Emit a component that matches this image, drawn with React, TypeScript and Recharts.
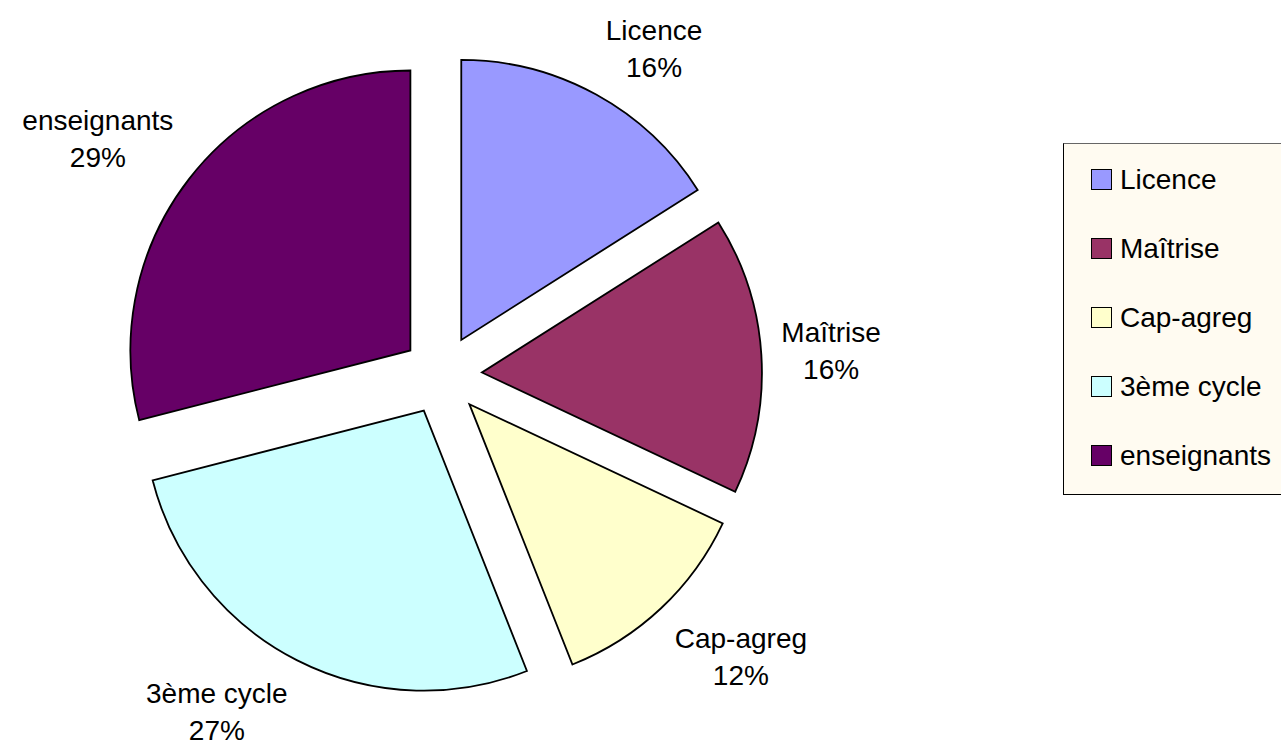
import React from 'react';
import { PieChart, Pie, Cell, Sector, Legend } from 'recharts';

const categories = ['Licence', 'Maîtrise', 'Cap-agreg', '3ème cycle', 'enseignants'];
const values = [16, 16, 12, 27, 29];
const COLORS = ['#9999FF', '#993366', '#FFFFCC', '#CCFFFF', '#660066'];

const data = categories.map((name, i) => ({ name, value: values[i] }));

const FONT = 'Arial, "Liberation Sans", sans-serif';
const FONT_SIZE = 28;
const EXPLODE = 40;
const RAD = Math.PI / 180;

// rough text width for label box placement
const measure = (txt: string) => {
  const ctx = document.createElement('canvas').getContext('2d');
  if (!ctx) return txt.length * 14;
  ctx.font = `${FONT_SIZE}px ${FONT}`;
  return ctx.measureText(txt).width;
};

const clamp = (v: number) => Math.max(-1, Math.min(1, v));

// exploded slice: shift each sector outward along its mid angle
const ExplodedSlice = (props: any) => {
  const { cx, cy, midAngle } = props;
  const dx = Math.cos(-midAngle * RAD) * EXPLODE;
  const dy = Math.sin(-midAngle * RAD) * EXPLODE;
  return <Sector {...props} cx={cx + dx} cy={cy + dy} stroke="#000" strokeWidth={1.8} />;
};

const renderLabel = (props: any) => {
  const { cx, cy, midAngle, outerRadius, name, percent } = props;
  const ux = Math.cos(-midAngle * RAD);
  const uy = Math.sin(-midAngle * RAD);
  const r = outerRadius + EXPLODE + 20;
  const px = cx + ux * r;
  const py = cy + uy * r;
  const pct = `${Math.round(percent * 100)}%`;
  const w = Math.max(measure(name), measure(pct));
  const h = 62;
  const x = px + clamp(ux * 3) * w / 2;
  const y = py + clamp(uy * 3) * h / 2 + 3;
  return (
    <text x={x} textAnchor="middle" fontFamily={FONT} fontSize={FONT_SIZE} fill="#000">
      <tspan x={x} y={y - 9}>{name}</tspan>
      <tspan x={x} y={y + 28}>{pct}</tspan>
    </text>
  );
};

const renderLegend = () => (
  <div style={{
    width: 240,
    height: 352,
    boxSizing: 'border-box',
    border: '1px solid #000',
    borderTopColor: '#666',
    background: '#FFFBF1',
    paddingTop: 1,
    fontFamily: FONT,
    fontSize: FONT_SIZE,
  }}>
    {data.map((entry, i) => (
      <div key={`leg-${i}`} style={{ height: 69, display: 'flex', alignItems: 'center', paddingLeft: 27 }}>
        <span style={{
          display: 'inline-block',
          width: 19,
          height: 19,
          background: COLORS[i],
          border: '1.5px solid #000',
          marginRight: 8,
        }} />
        <span>{entry.name}</span>
      </div>
    ))}
  </div>
);

export default function App() {
  return (
    <div style={{ position: 'fixed', left: 0, top: 0, width: 1281, height: 748, overflow: 'hidden', background: '#fff' }}>
      <PieChart width={1281} height={748} margin={{ top: 0, right: 0, bottom: 0, left: 0 }}>
        <Pie
          data={data}
          dataKey="value"
          nameKey="name"
          cx={442}
          cy={375}
          outerRadius={280}
          startAngle={90}
          endAngle={-270}
          shape={ExplodedSlice}
          label={renderLabel}
          labelLine={false}
          isAnimationActive={false}
        >
          {data.map((entry, index) => (
            <Cell key={`cell-${index}`} fill={COLORS[index]} />
          ))}
        </Pie>
        <Legend
          layout="vertical"
          content={renderLegend}
          wrapperStyle={{ position: 'absolute', left: 1063, top: 143, width: 240 }}
        />
      </PieChart>
    </div>
  );
}
